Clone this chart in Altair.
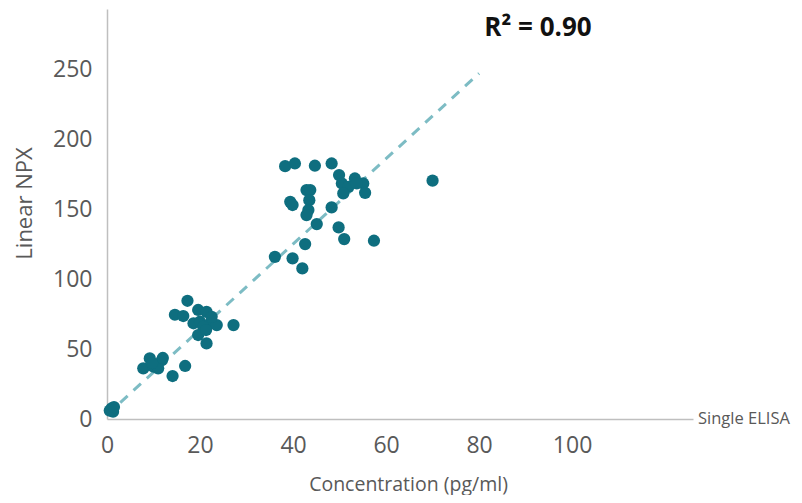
import altair as alt
import pandas as pd

conc = [1.0, 1.3, 0.6, 1.5,
        7.8, 9.2, 10.0, 11.8, 11.0, 14.1, 16.8, 9.7, 12.0,
        17.3, 14.6, 16.4, 19.6, 21.4, 18.6, 20.0, 22.2, 23.6, 27.2, 20.7, 19.6, 21.4, 21.3, 22.5,
        38.3, 40.4, 44.7, 48.3, 49.9, 53.3, 55.1, 50.5, 51.9, 50.8, 55.5, 53.7, 42.9, 43.7,
        39.4, 39.9, 43.5, 43.3, 42.9, 48.3, 45.1, 49.8, 42.6, 51.0, 57.4, 36.1, 39.9, 42.0, 70.0]
npx = [7.6, 5.2, 6.0, 8.5,
       36.2, 43.3, 37.4, 42.0, 36.2, 30.7, 37.9, 40.0, 43.6,
       84.5, 74.5, 73.6, 77.9, 76.6, 68.4, 69.5, 68.4, 67.1, 67.1, 65.9, 60.0, 54.0, 63.6, 73.0,
       180.7, 182.6, 181.0, 182.6, 174.3, 171.9, 168.3, 168.3, 165.9, 161.2, 161.6, 168.3, 163.6, 163.6,
       155.2, 152.9, 156.4, 149.3, 145.7, 151.2, 139.3, 136.9, 125.0, 128.6, 127.4, 115.9, 114.8, 107.6, 170.3]

fit_x = [0, 80]
fit_y = [3, 247]

x_ticks = [0, 20, 40, 60, 80, 100]
y_ticks = [0, 50, 100, 150, 200, 250]

pts = pd.DataFrame({"conc": conc, "npx": npx})
fit = pd.DataFrame({"conc": fit_x, "npx": fit_y})

FONT = "Open Sans"
GRAY = "#595959"

xscale = alt.Scale(domain=[0, 126], nice=False, zero=True)
yscale = alt.Scale(domain=[0, 293], nice=False, zero=True)

xaxis = alt.Axis(values=x_ticks, grid=False, ticks=False, domainColor="#bfbfbf", domainWidth=1.5,
                 labelFont=FONT, labelFontSize=23, labelColor=GRAY, labelPadding=15, labelFlush=False,
                 title="Concentration (pg/ml)", titleFont=FONT, titleFontSize=19.5, titleFontWeight="normal",
                 titleColor=GRAY, titleX=301, titleY=65, titleBaseline="middle", titleAlign="center")
yaxis = alt.Axis(values=y_ticks, grid=False, ticks=False, domainColor="#bfbfbf", domainWidth=1.5,
                 labelFont=FONT, labelFontSize=23, labelColor=GRAY, labelPadding=15, labelFlush=False,
                 title="Linear NPX", titleFont=FONT, titleFontSize=22, titleFontWeight="normal",
                 titleColor=GRAY, titleX=-83, titleY=194, titleAngle=-90, titleBaseline="middle",
                 titleAlign="center")

line = alt.Chart(fit).mark_line(color="#7dbcc4", strokeDash=[10, 8], strokeWidth=3).encode(
    x=alt.X("conc:Q", scale=xscale, axis=xaxis),
    y=alt.Y("npx:Q", scale=yscale, axis=yaxis),
)

points = alt.Chart(pts).mark_circle(color="#0e6e7f", opacity=1, size=150).encode(
    x=alt.X("conc:Q", scale=xscale),
    y=alt.Y("npx:Q", scale=yscale),
)

label = alt.Chart(pd.DataFrame({"t": ["Single ELISA"]})).mark_text(
    font=FONT, fontSize=16.5, color=GRAY, align="left", baseline="middle"
).encode(x=alt.value(591), y=alt.value(410), text="t:N")

r2 = alt.Chart(pd.DataFrame({"t": ["R² = 0.90"]})).mark_text(
    font=FONT, fontSize=26, fontWeight="bold", color="#111111", align="center", baseline="middle"
).encode(x=alt.value(431), y=alt.value(18.5), text="t:N")

chart = alt.layer(line, points, label, r2).properties(
    width=586, height=410,
    autosize=alt.AutoSizeParams(type="none"),
    padding={"left": 99, "top": 1, "right": 100, "bottom": 76},
).configure_view(stroke=None)

chart.save("out.html", embed_options={"renderer": "svg", "actions": False})
